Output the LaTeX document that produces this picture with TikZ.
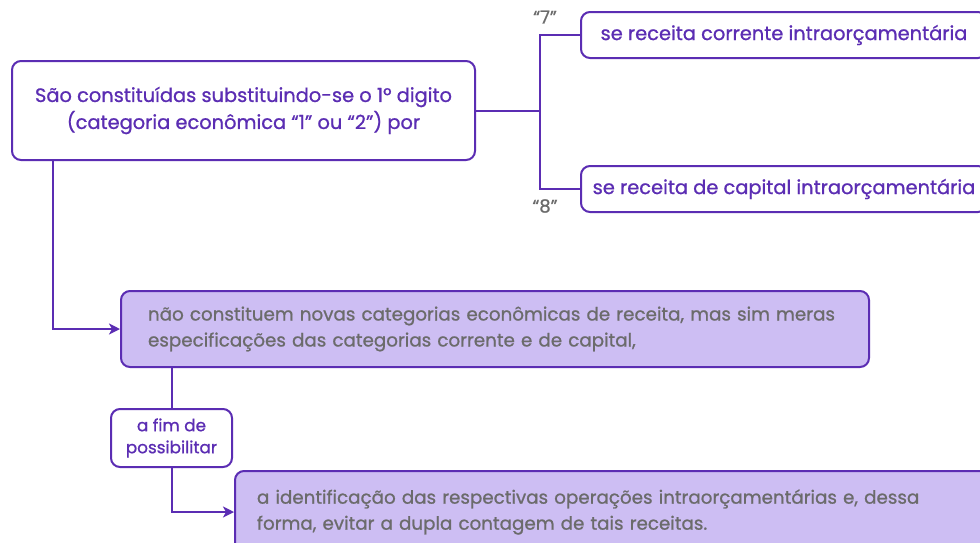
\documentclass[tikz,border=0pt]{standalone}
\usepackage{fontspec}
\setmainfont{Poppins}[FakeBold=0.9]
\usepackage{xcolor}
\usepackage{tikz}
\usetikzlibrary{arrows.meta,positioning}
\definecolor{roxo}{HTML}{5B2DB3}
\definecolor{lilas}{HTML}{CDBEF3}
\definecolor{cinza}{HTML}{6B6B6B}
\tikzset{
  caixa/.style={draw=roxo, line width=2pt, rounded corners=9pt, fill=white, text=roxo,
    align=center, font=\fontsize{19.4}{27}\selectfont},
  caixalilas/.style={caixa, fill=lilas, text=cinza, align=left, font=\fontsize{18.3}{26}\selectfont},
  liga/.style={draw=roxo, line width=2pt},
  seta/.style={liga, -{Stealth[length=11pt,width=11pt,inset=3pt]}},
  aspas/.style={text=cinza, font=\fontsize{18}{20}\selectfont}
}

\begin{document}
\begin{tikzpicture}[x=1pt,y=-1pt]
  \clip (0,0) rectangle (980,542);
  \fill[white] (0,0) rectangle (980,542);

  \node[caixa, minimum width=463pt, minimum height=99pt] (origem) at (243.5,110.5)
    {São constituídas substituindo-se o 1º digito\\(categoria econômica “1” ou “2”) por};
  \node[caixa, anchor=west, minimum width=406pt, minimum height=46pt] (corrente) at (580,35)
    {se receita corrente intraorçamentária};
  \node[caixa, anchor=west, minimum width=406pt, minimum height=46pt] (capital) at (580,189)
    {se receita de capital intraorçamentária};
  \coordinate (ramo) at (540,110.5);
  \node[aspas] (sete) at (545,17) {“7”};
  \node[aspas] (oito) at (545,206) {“8”};

  \node[caixalilas, anchor=north west, inner xsep=27pt, text width=694pt, minimum height=76pt] (naocat) at (120,290)
    {não constituem novas categorias econômicas de receita, mas sim meras\\especificações das categorias corrente e de capital,};
  \node[caixa, minimum width=121pt, minimum height=58pt, inner sep=2pt,
    font=\fontsize{16.8}{22}\selectfont] (afim) at (171.5,438) {a fim de\\possibilitar};
  \node[caixalilas, anchor=north west, inner xsep=22pt, text width=716pt, minimum height=82pt] (ident) at (234,470)
    {a identificação das respectivas operações intraorçamentárias e, dessa\\forma, evitar a dupla contagem de tais receitas.};

  \draw[liga] (origem.east) -- (ramo);
  \draw[liga] (corrente.west) -| (ramo);
  \draw[liga] (capital.west) -| (ramo);
  \draw[seta] ([xshift=42pt]origem.south west) |- (naocat.west);
  \draw[liga] (naocat.south -| afim.north) -- (afim.north);
  \draw[seta] (afim.south) |- (ident.west);
\end{tikzpicture}
\end{document}
